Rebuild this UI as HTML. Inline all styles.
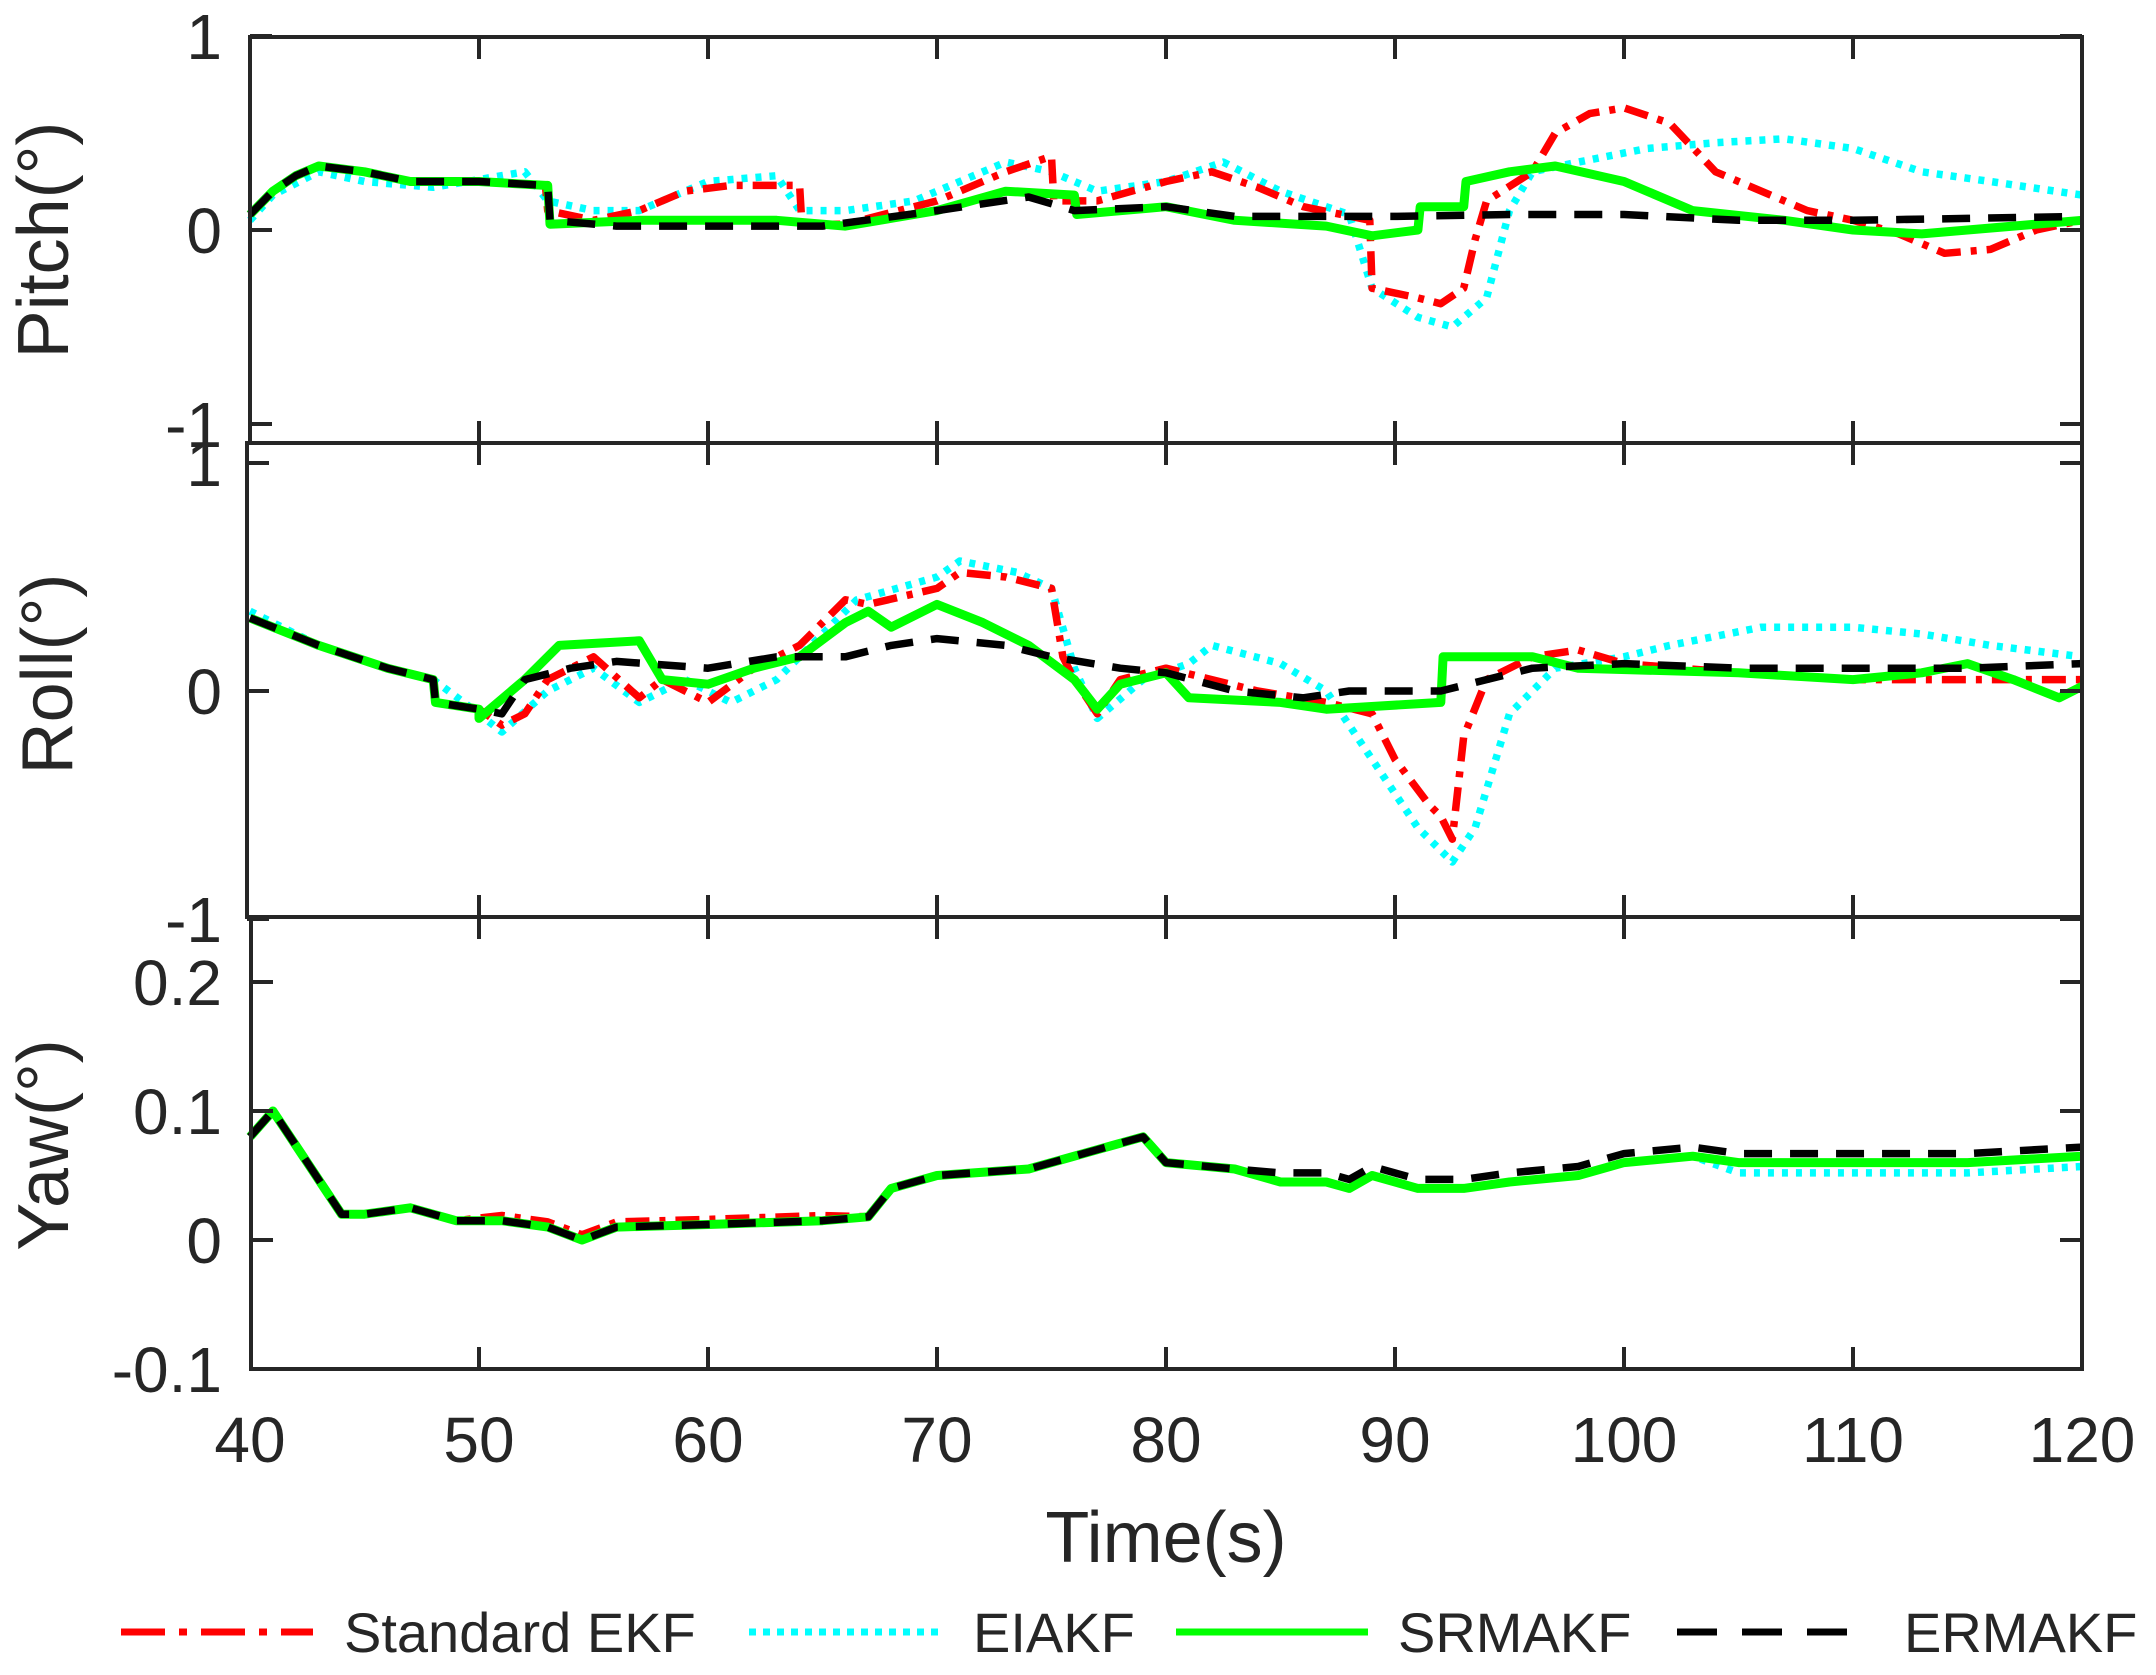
<!DOCTYPE html>
<html><head><meta charset="utf-8"><style>
html,body{margin:0;padding:0;background:#fff;}
svg{display:block;}
text{font-family:"Liberation Sans",Arial,sans-serif;fill:#262626;}
</style></head><body>
<svg id="s" width="2156" height="1675" viewBox="0 0 2156 1675" xmlns="http://www.w3.org/2000/svg">
<g id="data"></g>
<g id="axes" stroke="#262626" stroke-width="4" fill="none"></g>
<g id="labels" font-size="64"></g>
<text x="1166" y="1562" font-size="72" text-anchor="middle">Time(s)</text>
<text transform="translate(68,240) rotate(-90)" font-size="72" text-anchor="middle">Pitch(°)</text>
<text transform="translate(72,674) rotate(-90)" font-size="72" text-anchor="middle">Roll(°)</text>
<text transform="translate(68,1145) rotate(-90)" font-size="72" text-anchor="middle">Yaw(°)</text>
<g stroke-width="7" fill="none">
<line x1="121" y1="1632" x2="313" y2="1632" stroke="#ff0000" stroke-dasharray="44 14 8 14"/>
<line x1="749" y1="1632" x2="942" y2="1632" stroke="#00ffff" stroke-dasharray="7 7"/>
<line x1="1176" y1="1632" x2="1368" y2="1632" stroke="#00ff00"/>
<line x1="1677" y1="1632" x2="1856" y2="1632" stroke="#000" stroke-dasharray="40 25"/>
</g>
<g font-size="56">
<text x="344" y="1652">Standard EKF</text>
<text x="973" y="1652">EIAKF</text>
<text x="1398" y="1652">SRMAKF</text>
<text x="1904" y="1652">ERMAKF</text>
</g>
</svg>
<script>
const NS="http://www.w3.org/2000/svg";
const X=t=>250+(t-40)*22.9;
const panels=[
 {top:37,bot:443,y0:230,k:194,ticks:[[1,"1"],[0,"0"],[-1,"-1"]],left:250},
 {top:443,bot:917,y0:691,k:228,ticks:[[1,"1"],[0,"0"],[-1,"-1"]],left:247},
 {top:917,bot:1369,y0:1240,k:1290,ticks:[[0.2,"0.2"],[0.1,"0.1"],[0,"0"],[-0.1,"-0.1"]],left:251}
];
const ax=document.getElementById('axes'),lb=document.getElementById('labels'),dg=document.getElementById('data');
function el(p,n,a,txt){const e=document.createElementNS(NS,n);for(const k in a)e.setAttribute(k,a[k]);if(txt!==undefined)e.textContent=txt;p.appendChild(e);return e;}
panels.forEach((p,i)=>{
 el(ax,'rect',{x:p.left,y:p.top,width:2082-p.left,height:p.bot-p.top});
 p.ticks.forEach(([v,s])=>{const y=p.y0-v*p.k;
  el(ax,'line',{x1:p.left,y1:y,x2:p.left+22,y2:y});el(ax,'line',{x1:2082,y1:y,x2:2060,y2:y});
  el(lb,'text',{x:222,y:y+23,'text-anchor':'end'},s);});
 for(let t=50;t<120;t+=10){el(ax,'line',{x1:X(t),y1:p.bot,x2:X(t),y2:p.bot-22});el(ax,'line',{x1:X(t),y1:p.top,x2:X(t),y2:p.top+22});}
});
for(let t=40;t<=120;t+=10)el(lb,'text',{x:X(t),y:1462,'text-anchor':'middle'},String(t));
const st={r:{c:"#ff0000",d:"24 10 6 10"},c:{c:"#00ffff",d:"6 8"},g:{c:"#00ff00",d:""},k:{c:"#000",d:"28 18"}};
function draw(pi,key,pts){const p=panels[pi];
 const s=pts.map(([t,v])=>X(t).toFixed(1)+","+(p.y0-v*p.k).toFixed(1)).join(" ");
 const a={points:s,stroke:st[key].c,'stroke-width':key=='g'?9:7.5,fill:'none','stroke-linejoin':'round'};
 if(st[key].d)a['stroke-dasharray']=st[key].d;el(dg,'polyline',a);}
const common=[[40,0.08],[41,0.2],[42,0.28],[43,0.33],[45,0.3],[47,0.25],[50,0.25],[52.9,0.23]];
draw(0,'c',[[40,0.05],[41,0.18],[43,0.3],[45,0.25],[48,0.22],[52,0.3],[53,0.15],[55,0.1],[57,0.1],[60,0.25],[63,0.28],[64,0.1],[66,0.1],[69,0.15],[73,0.35],[75,0.3],[77,0.2],[80,0.25],[82.5,0.35],[85,0.2],[88,0.08],[89,-0.3],[91,-0.45],[92.5,-0.5],[94,-0.35],[95,0.1],[96,0.3],[98,0.35],[101,0.42],[104,0.45],[107,0.47],[110,0.42],[113,0.3],[116,0.25],[120,0.18]]);
draw(0,'r',common.concat([[53,0.1],[55,0.05],[57,0.1],[59,0.2],[61,0.23],[64,0.23],[64.1,0.03],[66,0.03],[70,0.15],[73,0.3],[75,0.38],[75.1,0.15],[77,0.15],[80,0.25],[82,0.3],[84,0.22],[86,0.12],[88.9,0.05],[89,-0.3],[91,-0.35],[92,-0.38],[93,-0.3],[93.5,-0.05],[94,0.15],[96,0.3],[97,0.5],[98.5,0.6],[100,0.63],[102,0.55],[104,0.3],[106,0.2],[108,0.1],[110,0.05],[112,-0.02],[114,-0.12],[116,-0.1],[118,0],[120,0.05]]));
draw(0,'g',common.concat([[53,0.23],[53.1,0.03],[57,0.05],[63,0.05],[66,0.02],[70,0.1],[73,0.2],[76,0.18],[76.1,0.08],[80,0.12],[83,0.05],[87,0.02],[89,-0.03],[91,0],[91.1,0.12],[93,0.12],[93.1,0.25],[95,0.3],[97,0.33],[100,0.25],[103,0.1],[107,0.05],[110,0],[113,-0.02],[115,0],[120,0.05]]));
draw(0,'k',common.concat([[53,0.23],[53.1,0.05],[56,0.02],[60,0.02],[65,0.02],[70,0.1],[74,0.17],[76,0.1],[80,0.12],[83,0.07],[90,0.07],[95,0.08],[100,0.08],[105,0.05],[110,0.05],[115,0.06],[120,0.07]]));
const rc=[[40,0.32],[43,0.2],[46,0.1],[48,0.05],[48.1,-0.05],[50,-0.08]];
draw(1,'c',[[40,0.35],[43,0.2],[46,0.1],[48,0.05],[50,-0.1],[51,-0.18],[53,0],[55,0.1],[57,-0.05],[59,0.05],[61,-0.05],[63,0.05],[65,0.25],[66.5,0.4],[70,0.5],[71,0.57],[73.5,0.52],[75,0.45],[76,0.1],[77,-0.12],[79,0.05],[81,0.12],[82,0.2],[85,0.12],[87,0],[89,-0.3],[91,-0.6],[92.5,-0.75],[93.5,-0.6],[95,-0.1],[97,0.1],[100,0.15],[102,0.2],[106,0.28],[110,0.28],[113,0.25],[116,0.2],[120,0.15]]);
draw(1,'r',rc.concat([[51,-0.15],[52,-0.1],[53,0.05],[55,0.15],[57,-0.03],[58,0.05],[60,-0.05],[62,0.1],[64,0.2],[66,0.4],[67,0.38],[70,0.45],[71,0.52],[73,0.5],[75,0.45],[75.5,0.15],[76,0.05],[77,-0.1],[78,0.05],[80,0.1],[82,0.05],[84,0],[87,-0.05],[89,-0.1],[90,-0.3],[91.5,-0.5],[92,-0.55],[92.5,-0.65],[93,-0.2],[94,0.05],[96,0.15],[98,0.18],[100,0.12],[105,0.08],[110,0.05],[115,0.05],[120,0.05]]));
draw(1,'g',rc.concat([[50,-0.12],[52,0.05],[53.5,0.2],[57,0.22],[58,0.05],[60,0.03],[62,0.1],[64,0.15],[66,0.3],[67,0.35],[68,0.28],[70,0.38],[72,0.3],[74,0.2],[76,0.05],[77,-0.08],[78,0.03],[80,0.08],[81,-0.03],[85,-0.05],[87,-0.08],[92,-0.05],[92.1,0.15],[96,0.15],[98,0.1],[105,0.08],[110,0.05],[113,0.08],[115,0.12],[117,0.05],[119,-0.03],[120,0.02]]));
draw(1,'k',rc.concat([[51,-0.1],[52,0.05],[54,0.1],[56,0.13],[60,0.1],[63,0.15],[66,0.15],[68,0.2],[70,0.23],[73,0.2],[75,0.15],[78,0.1],[80,0.08],[83,0],[86,-0.03],[88,0],[92,0],[94,0.05],[96,0.1],[100,0.12],[105,0.1],[110,0.1],[115,0.1],[120,0.12]]));
const y1=[[40,0.08],[41,0.1],[42.5,0.06],[44,0.02],[45,0.02],[47,0.025],[49,0.015],[51,0.015],[53,0.01],[54.5,0],[56,0.01],[60,0.012],[65,0.015],[67,0.018],[68,0.04],[70,0.05],[74,0.055],[77,0.07],[79,0.08],[80,0.06],[83,0.055],[85,0.045],[87,0.045],[88,0.04],[89,0.05],[91,0.04],[93,0.04],[95,0.045],[98,0.05],[100,0.06],[103,0.065],[105,0.06],[110,0.06],[115,0.06],[120,0.065]];
draw(2,'r',y1.map(([t,v])=>[t,t>50&&t<66?v+0.004:v]));
draw(2,'c',y1.map(([t,v])=>[t,t>=105?v-0.008:v]));
draw(2,'g',y1);
draw(2,'k',y1.map(([t,v])=>[t,t>=85?v+0.007:v]));
</script>
</body></html>
